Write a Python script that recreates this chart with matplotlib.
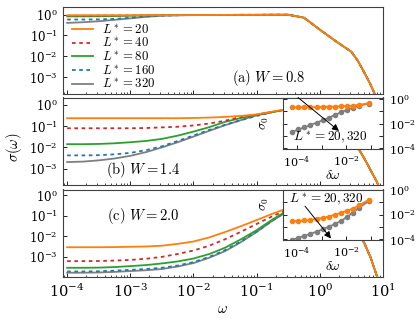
import numpy as np
import matplotlib
matplotlib.use("Agg")
import matplotlib.pyplot as plt
from matplotlib.ticker import FixedLocator, NullFormatter

plt.rcParams['mathtext.fontset'] = 'cm'
plt.rcParams['font.family'] = ['DejaVu Serif']
plt.rcParams['font.size'] = 10
plt.rcParams['axes.edgecolor'] = '#404040'
plt.rcParams['axes.linewidth'] = 0.8

# ---------------- data ----------------
L_values = [20, 40, 80, 160, 320]

omega_low = [1.0e-4, 1.78e-4, 3.16e-4, 5.62e-4, 1.0e-3, 1.78e-3, 3.16e-3, 5.62e-3,
             1.0e-2, 1.78e-2, 3.16e-2, 5.62e-2, 1.0e-1, 1.78e-1, 3.16e-1]
omega_tail = [5.62e-1, 1.0, 1.78, 3.16, 3.98, 5.01, 6.31, 7.94, 10.0]

# panel (a) W = 0.8
a_L20 = [0.93, 0.93, 0.93, 0.93, 0.93, 0.94, 0.94, 0.94, 0.95, 0.95, 0.96, 0.97, 0.97, 0.98, 0.98]
a_L40 = [0.88, 0.88, 0.89, 0.90, 0.91, 0.92, 0.93, 0.94, 0.95, 0.95, 0.96, 0.97, 0.97, 0.98, 0.98]
a_L80 = [0.82, 0.82, 0.83, 0.85, 0.88, 0.91, 0.93, 0.94, 0.95, 0.95, 0.96, 0.97, 0.97, 0.98, 0.98]
a_L160 = [0.58, 0.58, 0.59, 0.62, 0.70, 0.82, 0.90, 0.93, 0.95, 0.95, 0.96, 0.97, 0.97, 0.98, 0.98]
a_L320 = [0.40, 0.43, 0.48, 0.56, 0.66, 0.78, 0.88, 0.92, 0.94, 0.95, 0.96, 0.97, 0.97, 0.98, 0.98]
a_tail = [0.71, 0.19, 0.054, 0.0166, 0.0063, 0.0018, 4.7e-4, 1.0e-4, 2.0e-5]

# panel (b) W = 1.4
b_L20 = [0.234, 0.234, 0.234, 0.234, 0.234, 0.234, 0.234, 0.234, 0.24, 0.251, 0.27, 0.30, 0.355, 0.48, 0.63]
b_L40 = [0.079, 0.079, 0.079, 0.079, 0.079, 0.081, 0.087, 0.093, 0.107, 0.132, 0.178, 0.27, 0.34, 0.47, 0.63]
b_L80 = [0.0141, 0.0141, 0.0145, 0.0155, 0.0174, 0.020, 0.025, 0.0355, 0.055, 0.089, 0.158, 0.24, 0.34, 0.457, 0.62]
b_L160 = [0.0042, 0.0042, 0.0043, 0.0047, 0.0055, 0.0074, 0.0112, 0.020, 0.036, 0.066, 0.115, 0.19, 0.30, 0.45, 0.62]
b_L320 = [0.00204, 0.00214, 0.00245, 0.0030, 0.0040, 0.0060, 0.010, 0.0174, 0.032, 0.060, 0.110, 0.19, 0.32, 0.457, 0.62]
b_tail = [0.71, 0.45, 0.126, 0.025, 0.010, 0.0032, 8.9e-4, 2.5e-4, 5e-5]

# panel (c) W = 2.0
c_L20 = [0.00295, 0.00295, 0.00295, 0.0030, 0.0031, 0.0032, 0.0035, 0.0043, 0.0056, 0.0089, 0.0162, 0.031, 0.062, 0.126, 0.24]
c_L40 = [6.2e-4, 6.2e-4, 6.3e-4, 6.6e-4, 7.1e-4, 8.1e-4, 1.0e-3, 1.38e-3, 2.04e-3, 3.5e-3, 7.2e-3, 0.0166, 0.040, 0.095, 0.21]
c_L80 = [2.95e-4, 2.95e-4, 3.0e-4, 3.2e-4, 3.55e-4, 4.0e-4, 4.8e-4, 6.0e-4, 8.3e-4, 1.38e-3, 2.8e-3, 7.1e-3, 0.020, 0.066, 0.19]
c_L160 = [1.95e-4, 1.95e-4, 2.0e-4, 2.14e-4, 2.34e-4, 2.57e-4, 2.95e-4, 3.8e-4, 5.6e-4, 1.0e-3, 2.14e-3, 5.6e-3, 0.017, 0.060, 0.18]
c_L320 = [1.7e-4, 1.7e-4, 1.74e-4, 1.86e-4, 2.04e-4, 2.24e-4, 2.57e-4, 3.4e-4, 5.0e-4, 9.1e-4, 1.9e-3, 5.2e-3, 0.0162, 0.0575, 0.174]
c_tail = [0.38, 0.42, 0.2, 0.04, 0.014, 0.005, 0.001, 1.26e-4, 2e-5]

# insets: sigma_0 vs delta omega for L* = 20 and 320
d_omega = [6.5e-5, 1.15e-4, 2.0e-4, 3.5e-4, 6.3e-4, 1.1e-3, 2.0e-3, 3.5e-3, 6.2e-3, 1.07e-2, 1.9e-2, 3.3e-2, 8.5e-2]
ins_b_L20 = [0.209, 0.209, 0.209, 0.209, 0.224, 0.224, 0.240, 0.240, 0.251, 0.269, 0.288, 0.324, 0.447]
ins_b_L320 = [2.19e-3, 3.39e-3, 5.0e-3, 7.76e-3, 1.2e-2, 1.86e-2, 3.0e-2, 5.0e-2, 8.3e-2, 0.129, 0.195, 0.288, 0.417]
ins_c_L20 = [2.95e-3, 2.95e-3, 3.3e-3, 3.7e-3, 4.3e-3, 5.4e-3, 6.9e-3, 1.0e-2, 1.35e-2, 2.1e-2, 3.0e-2, 5.6e-2, 0.158]
ins_c_L320 = [8.9e-5, 1.29e-4, 1.86e-4, 2.69e-4, 4.07e-4, 6.3e-4, 1.02e-3, 1.7e-3, 2.95e-3, 6.3e-3, 1.41e-2, 3.55e-2, 0.126]

panel_labels = [r'$\mathrm{(a)}\ W=0.8$', r'$\mathrm{(b)}\ W=1.4$', r'$\mathrm{(c)}\ W=2.0$']

# ---------------- style ----------------
colors = ['#ff7f0e', '#d62728', '#2ca02c', '#1f77b4', '#7f7f7f']
dashed = [False, True, False, True, False]
TICK_FS = 8

W_FIG, H_FIG = 416, 319
fig = plt.figure(figsize=(W_FIG / 100, H_FIG / 100), dpi=100)


def rect(l, t, r, b):
    return [l / W_FIG, 1 - b / H_FIG, (r - l) / W_FIG, (b - t) / H_FIG]


main_rects = [rect(62.7, 7, 383, 94), rect(62.7, 97.5, 383, 184.5), rect(62.7, 189.5, 383, 277)]
ylims = [(1.6e-4, 2.3), (1.8e-4, 2.2), (1.05e-4, 1.9)]
panels = [
    ([a_L20, a_L40, a_L80, a_L160, a_L320], a_tail),
    ([b_L20, b_L40, b_L80, b_L160, b_L320], b_tail),
    ([c_L20, c_L40, c_L80, c_L160, c_L320], c_tail),
]
label_pos = [(0.643, 0.18), (0.252, 0.167), (0.25, 0.70)]

main_axes = []
for i, (series, tail) in enumerate(panels):
    ax = fig.add_axes(main_rects[i])
    main_axes.append(ax)
    x = omega_low + omega_tail
    for j, low in enumerate(series):
        y = low + tail
        kw = dict(color=colors[j], lw=1.3, label=rf'$L^* = {L_values[j]}$', zorder=10 - j)
        if dashed[j]:
            kw['dashes'] = (2.0, 2.0)
        ax.plot(x, y, **kw)
    ax.set_xscale('log')
    ax.set_yscale('log')
    ax.set_xlim(8.5e-5, 10)
    ax.set_ylim(*ylims[i])
    ax.yaxis.set_major_locator(FixedLocator([1e-4, 1e-3, 1e-2, 1e-1, 1e0]))
    ax.tick_params(which='both', direction='in', top=False, right=False)
    ax.tick_params(axis='y', labelsize=TICK_FS + 0.5)
    ax.tick_params(axis='x', labelsize=10.5, pad=4)
    ax.tick_params(which='major', length=3, width=0.6)
    ax.tick_params(which='minor', length=1.5, width=0.5)
    if i < 2:
        ax.tick_params(labelbottom=False)
    ax.text(label_pos[i][0], label_pos[i][1], panel_labels[i], transform=ax.transAxes,
            ha='center', va='center', fontsize=10.5, zorder=20)

leg = main_axes[0].legend(loc='upper left', bbox_to_anchor=(0.03, 0.82), frameon=False,
                          fontsize=9.2, handlelength=1.6, handletextpad=0.7,
                          labelspacing=0.0, borderpad=0.0, borderaxespad=0.0)

fig.text(14 / W_FIG, 1 - 147 / H_FIG, r'$\sigma(\omega)$', rotation=90, ha='center', va='center', fontsize=10.5)
fig.text(222 / W_FIG, 1 - 309 / H_FIG, r'$\omega$', ha='center', va='center', fontsize=10.5)

# ---------------- insets ----------------
inset_rects = [rect(283, 97.5, 383, 149), rect(283, 189.5, 383, 240)]
inset_data = [(ins_b_L20, ins_b_L320), (ins_c_L20, ins_c_L320)]
inset_ylims = [(9e-5, 1.3), (8.5e-5, 1.1)]
inset_text = [(0.47, 0.21), (0.43, 0.80)]
arrow_from = [(0.15, 1.0), (0.22, 0.67)]
arrow_to = [(0.56, 0.35), (0.48, 0.03)]
ylabel_y = [0.5, 0.72]

for k in range(2):
    ia = fig.add_axes(inset_rects[k])
    ia.set_facecolor('white')
    s20, s320 = inset_data[k]
    ia.plot(d_omega, s320, '-o', color=colors[4], lw=1.3, ms=3.0)
    ia.plot(d_omega, s20, '-o', color=colors[0], lw=1.3, ms=3.0)
    ia.set_xscale('log')
    ia.set_yscale('log')
    ia.set_xlim(2.7e-5, 0.32)
    ia.set_ylim(*inset_ylims[k])
    ia.xaxis.set_major_locator(FixedLocator([1e-4, 1e-2]))
    ia.xaxis.set_minor_locator(FixedLocator([1e-3, 1e-1]))
    ia.xaxis.set_minor_formatter(NullFormatter())
    ia.yaxis.set_major_locator(FixedLocator([1e-4, 1e-2, 1e0]))
    ia.yaxis.set_minor_locator(FixedLocator([1e-3, 1e-1]))
    ia.yaxis.set_minor_formatter(NullFormatter())
    ia.tick_params(which='both', direction='in', left=True, right=True, labelleft=False,
                   labelright=True, labelsize=TICK_FS)
    ia.tick_params(which='major', length=3, width=0.6)
    ia.tick_params(which='minor', length=3, width=0.6)
    ia.tick_params(axis='y', which='both', pad=4)
    ia.tick_params(axis='x', which='both', pad=4)
    ia.set_xlabel(r'$\delta\omega$', fontsize=9.5, labelpad=0)
    ia.set_ylabel(r'$\sigma_0$', fontsize=9.5, labelpad=1)
    ia.yaxis.set_label_position('left')
    ia.yaxis.set_label_coords(-0.12, ylabel_y[k])
    ia.text(inset_text[k][0], inset_text[k][1], r'$L^* = 20, 320$', transform=ia.transAxes,
            ha='center', va='center', fontsize=9.5)
    ia.annotate('', xy=arrow_to[k], xycoords='axes fraction', xytext=arrow_from[k],
                textcoords='axes fraction',
                arrowprops=dict(arrowstyle='-|>', color='k', lw=0.7, mutation_scale=10,
                                shrinkA=0, shrinkB=0))

fig.savefig('out.png', dpi=100)
